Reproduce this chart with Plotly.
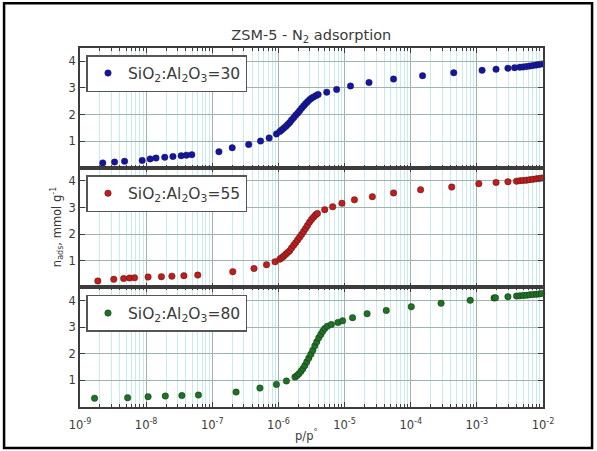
import plotly.graph_objects as go
from plotly.subplots import make_subplots

# N2 adsorption isotherms of ZSM-5 at three SiO2:Al2O3 ratios
p_30 = [2.21e-9, 3.33e-9, 4.72e-9, 8.71e-9, 1.15e-8, 1.41e-8, 1.91e-8, 2.54e-8, 3.39e-8, 4.07e-8, 4.90e-8,
        1.26e-7, 2.00e-7, 3.55e-7, 5.37e-7, 7.24e-7, 9.33e-7,
        1.05e-6, 1.12e-6, 1.20e-6, 1.29e-6, 1.38e-6, 1.48e-6, 1.58e-6, 1.70e-6, 1.82e-6, 1.95e-6,
        2.09e-6, 2.24e-6, 2.40e-6, 2.57e-6, 2.75e-6, 2.95e-6, 3.16e-6, 3.39e-6, 3.72e-6,
        3.98e-6, 5.37e-6, 7.59e-6, 1.23e-5, 2.34e-5, 5.50e-5, 1.51e-4, 4.47e-4, 1.20e-3, 1.95e-3, 2.95e-3, 3.72e-3,
        4.47e-3, 5.01e-3, 5.62e-3, 6.31e-3, 7.08e-3, 7.94e-3, 8.71e-3, 9.55e-3]
n_30 = [0.18, 0.21, 0.24, 0.27, 0.33, 0.36, 0.39, 0.42, 0.45, 0.47, 0.49,
        0.60, 0.75, 0.87, 1.00, 1.12, 1.27,
        1.36, 1.42, 1.48, 1.55, 1.62, 1.70, 1.79, 1.88, 1.97, 2.05,
        2.14, 2.23, 2.32, 2.40, 2.48, 2.55, 2.61, 2.66, 2.71,
        2.75, 2.84, 2.94, 3.07, 3.20, 3.33, 3.46, 3.57, 3.66, 3.70, 3.74, 3.76,
        3.78, 3.79, 3.80, 3.82, 3.84, 3.86, 3.88, 3.90]

p_55 = [1.86e-9, 3.24e-9, 4.57e-9, 5.62e-9, 6.68e-9, 1.07e-8, 1.70e-8, 2.45e-8, 3.72e-8, 6.03e-8,
        2.04e-7, 4.27e-7, 6.61e-7, 8.91e-7, 1.05e-6,
        1.12e-6, 1.20e-6, 1.29e-6, 1.38e-6, 1.48e-6, 1.58e-6, 1.70e-6, 1.82e-6, 1.95e-6, 2.09e-6,
        2.24e-6, 2.40e-6, 2.57e-6, 2.75e-6, 2.95e-6, 3.16e-6, 3.39e-6, 3.63e-6, 3.89e-6,
        5.01e-6, 6.61e-6, 9.12e-6, 1.41e-5, 2.63e-5, 5.50e-5, 1.41e-4, 4.17e-4, 1.07e-3, 1.95e-3, 2.95e-3, 3.98e-3,
        4.47e-3, 5.01e-3, 5.62e-3, 6.31e-3, 7.08e-3, 7.94e-3, 8.71e-3, 9.55e-3]
n_55 = [0.24, 0.30, 0.33, 0.35, 0.36, 0.39, 0.40, 0.42, 0.44, 0.46,
        0.59, 0.71, 0.85, 0.96, 1.06,
        1.11, 1.17, 1.24, 1.31, 1.38, 1.48, 1.58, 1.68, 1.78, 1.88,
        1.99, 2.10, 2.21, 2.33, 2.45, 2.55, 2.64, 2.72, 2.78,
        2.92, 3.03, 3.16, 3.29, 3.41, 3.55, 3.67, 3.77, 3.90, 3.94, 3.97, 3.99,
        4.01, 4.02, 4.03, 4.05, 4.06, 4.08, 4.09, 4.11]

p_80 = [1.66e-9, 5.25e-9, 1.07e-8, 1.95e-8, 3.47e-8, 6.17e-8,
        2.29e-7, 5.25e-7, 9.33e-7, 1.32e-6, 1.78e-6,
        1.91e-6, 2.04e-6, 2.19e-6, 2.34e-6, 2.51e-6, 2.69e-6, 2.88e-6, 3.09e-6, 3.31e-6, 3.55e-6,
        3.80e-6, 4.07e-6, 4.37e-6, 4.68e-6, 5.01e-6,
        5.50e-6, 6.31e-6, 7.94e-6, 9.33e-6, 1.32e-5, 2.19e-5, 4.27e-5, 1.02e-4, 2.88e-4, 7.94e-4,
        1.82e-3, 1.91e-3, 2.95e-3, 3.98e-3,
        4.47e-3, 5.01e-3, 5.62e-3, 6.31e-3, 7.08e-3, 7.94e-3, 8.71e-3, 9.55e-3]
n_80 = [0.33, 0.35, 0.39, 0.41, 0.43, 0.45,
        0.56, 0.71, 0.85, 0.98, 1.13,
        1.18, 1.25, 1.34, 1.44, 1.56, 1.70, 1.84, 1.98, 2.13, 2.30,
        2.45, 2.60, 2.73, 2.85, 2.95,
        3.04, 3.10, 3.18, 3.24, 3.36, 3.51, 3.63, 3.77, 3.90, 4.01,
        4.10, 4.11, 4.15, 4.17,
        4.18, 4.19, 4.20, 4.22, 4.23, 4.24, 4.25, 4.27]

series_names = ["SiO<sub>2</sub>:Al<sub>2</sub>O<sub>3</sub>=30",
                "SiO<sub>2</sub>:Al<sub>2</sub>O<sub>3</sub>=55",
                "SiO<sub>2</sub>:Al<sub>2</sub>O<sub>3</sub>=80"]
series_colors = ["#1414a6", "#c41c1c", "#1c7322"]

x_tick_vals = [1e-9, 1e-8, 1e-7, 1e-6, 1e-5, 1e-4, 1e-3, 1e-2]
x_tick_text = ["10<sup>-9</sup>", "10<sup>-8</sup>", "10<sup>-7</sup>", "10<sup>-6</sup>",
               "10<sup>-5</sup>", "10<sup>-4</sup>", "10<sup>-3</sup>", "10<sup>-2</sup>"]
y_tick_vals = [1, 2, 3, 4]

FONT = "DejaVu Sans"
TEXT = "#3a3a3a"
FRAME = "#3c3c3c"
MAJOR_GRID = "#a0b4ae"
MINOR_GRID = "#c8ecec"

fig = make_subplots(rows=3, cols=1, shared_xaxes=True, vertical_spacing=0)

data = [(p_30, n_30), (p_55, n_55), (p_80, n_80)]
legend_ids = ["legend", "legend2", "legend3"]
for i, ((px, ny), name, color) in enumerate(zip(data, series_names, series_colors)):
    fig.add_trace(
        go.Scatter(
            x=px, y=ny, mode="markers", name=name, legend=legend_ids[i],
            marker=dict(size=6.5, color=color, line=dict(color="#1a1a1a", width=0.4)),
            cliponaxis=False,
        ),
        row=i + 1, col=1,
    )

for r in range(1, 4):
    fig.update_xaxes(
        type="log", range=[-9, -2], tickvals=x_tick_vals, ticktext=x_tick_text,
        showline=True, mirror="allticks", linecolor=FRAME, linewidth=1.5,
        ticks="inside", ticklen=5, tickcolor=FRAME, ticklabelstandoff=6,
        showgrid=True, gridcolor=MAJOR_GRID, gridwidth=1,
        minor=dict(dtick="D1", showgrid=True, gridcolor=MINOR_GRID, gridwidth=0.8,
                   ticks="inside", ticklen=3, tickcolor=FRAME),
        tickfont=dict(family=FONT, size=11.5, color=TEXT),
        zeroline=False, row=r, col=1,
    )
    fig.update_yaxes(
        range=[0, 4.5], tickvals=y_tick_vals,
        showline=True, mirror="allticks", linecolor=FRAME, linewidth=1.5,
        ticks="inside", ticklen=5, tickcolor=FRAME,
        showgrid=True, gridcolor=MAJOR_GRID, gridwidth=1,
        tickfont=dict(family=FONT, size=11.5, color=TEXT),
        zeroline=False, row=r, col=1,
    )

legend_style = dict(
    xanchor="left", yanchor="top", x=0.014,
    bgcolor="white", bordercolor="#555555", borderwidth=1.5,
    font=dict(family=FONT, size=15.5, color=TEXT),
    itemclick=False, itemdoubleclick=False,
)
fig.update_layout(
    legend=dict(y=0.9805, **legend_style),
    legend2=dict(y=0.646, **legend_style),
    legend3=dict(y=0.312, **legend_style),
)

fig.update_layout(
    width=597, height=451,
    margin=dict(l=80, r=54, t=48, b=44),
    paper_bgcolor="white", plot_bgcolor="white",
    showlegend=True,
    title=dict(text="ZSM-5 - N<sub>2</sub> adsorption", x=0.5215, xanchor="center",
               y=0.922, yanchor="middle",
               font=dict(family=FONT, size=14.5, color=TEXT)),
    annotations=[
        dict(text="p/p<sup>°</sup>", xref="paper", yref="paper", x=0.49, y=-0.105,
             showarrow=False, font=dict(family=FONT, size=11.5, color=TEXT)),
        dict(text="n<sub>ads</sub>, mmol g<sup>-1</sup>", xref="paper", yref="paper",
             x=-0.072, y=0.5, textangle=-90, showarrow=False,
             font=dict(family=FONT, size=11.5, color=TEXT)),
    ],
    shapes=[
        dict(type="rect", xref="paper", yref="paper", x0=-0.164, x1=1.106, y0=-0.114, y1=1.125,
             line=dict(color="black", width=2.5), fillcolor="rgba(0,0,0,0)", layer="below"),
    ],
)

fig.write_html("out.html")
